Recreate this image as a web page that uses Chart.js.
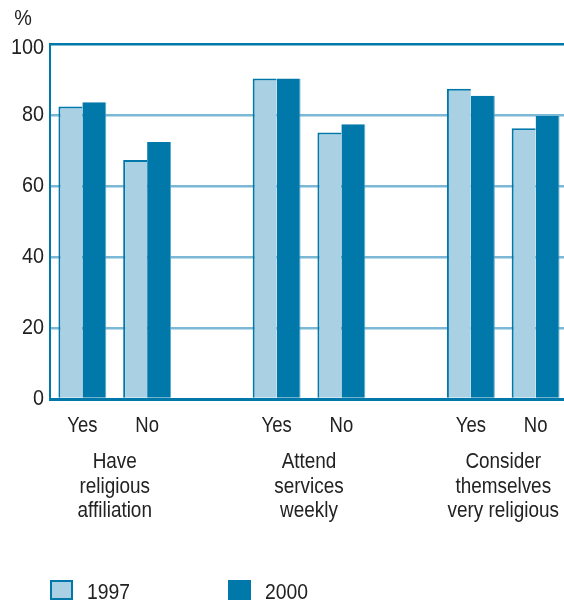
<!DOCTYPE html>
<html>
<head>
    <title>Religion 1997 vs 2000</title>
    <style>
        body {
            margin: 0;
            overflow: hidden;
            background: #fff;
        }

        #wrap {
            width: 568px;
            height: 603px;
        }
    </style>
</head>
<body>
    <div id="wrap">
        <canvas id="chart" width="568" height="603"></canvas>
    </div>
    <script src="https://cdn.jsdelivr.net/npm/chart.js"></script>
    <script>
        // Chart data
        const categories = ['Yes', 'No', '', 'Yes', 'No', '', 'Yes', 'No'];
        const values1997 = [82.4, 67.3, null, 90.3, 75.1, null, 87.4, 76.3];
        const values2000 = [83.6, 72.4, null, 90.3, 77.4, null, 85.4, 79.7];
        const groupStarts = [0, 3, 6];
        const groupLabels = [
            ['Have', 'religious', 'affiliation'],
            ['Attend', 'services', 'weekly'],
            ['Consider', 'themselves', 'very religious']
        ];
        const yTicks = [0, 20, 40, 60, 80, 100];
        const seriesNames = ['1997', '2000'];

        const darkBlue = '#0078a9';
        const lightBlue = '#aad1e3';
        const gridBlue = '#7bb8d5';
        const textColor = '#222222';
        const fontFamily = '"Liberation Sans", Arial, sans-serif';

        // the original uses a condensed face, so squeeze Liberation Sans a bit
        function narrowText(ctx, text, x, y, sx) {
            ctx.save();
            ctx.translate(x, y);
            ctx.scale(sx, 1);
            ctx.fillText(text, 0, 0);
            ctx.restore();
        }

        // Draws tick labels, the % sign, the group captions and the legend
        const extraText = {
            id: 'extraText',
            afterDraw(chart) {
                const ctx = chart.ctx;
                const x = chart.scales.x;
                const y = chart.scales.y;
                ctx.save();
                ctx.fillStyle = textColor;
                ctx.textBaseline = 'middle';

                // y tick labels
                ctx.font = '22px ' + fontFamily;
                ctx.textAlign = 'right';
                yTicks.forEach(v => {
                    const py = y.getPixelForValue(v) + (v === 100 ? 4 : 0);
                    narrowText(ctx, String(v), 44, py, 0.9);
                });
                ctx.textAlign = 'center';
                narrowText(ctx, '%', 23, 19, 0.9);

                // x tick labels
                categories.forEach((c, i) => {
                    if (c) narrowText(ctx, c, x.getPixelForValue(i), 426, 0.84);
                });

                groupStarts.forEach((start, g) => {
                    const cx = (x.getPixelForValue(start) + x.getPixelForValue(start + 1)) / 2;
                    groupLabels[g].forEach((line, i) => {
                        narrowText(ctx, line, cx, 462 + i * 24.5, 0.86);
                    });
                });

                // legend
                const items = [
                    { x: 50, fill: lightBlue, stroke: darkBlue },
                    { x: 228, fill: darkBlue, stroke: darkBlue }
                ];
                ctx.textAlign = 'left';
                items.forEach((item, i) => {
                    ctx.fillStyle = item.fill;
                    ctx.fillRect(item.x, 580, 23, 20);
                    ctx.strokeStyle = item.stroke;
                    ctx.lineWidth = 2;
                    ctx.strokeRect(item.x + 1, 581, 21, 18);
                    ctx.fillStyle = textColor;
                    narrowText(ctx, seriesNames[i], item.x + 37, 593, 0.88);
                });
                ctx.restore();
            }
        };

        const ctx = document.getElementById('chart').getContext('2d');
        new Chart(ctx, {
            type: 'bar',
            data: {
                labels: categories,
                datasets: [{
                    label: seriesNames[0],
                    data: values1997,
                    backgroundColor: lightBlue,
                    borderColor: darkBlue,
                    borderWidth: { left: 2, top: 2, right: 0, bottom: 0 },
                    borderSkipped: false
                }, {
                    label: seriesNames[1],
                    data: values2000,
                    backgroundColor: darkBlue,
                    borderColor: '#5ea8cc',
                    borderWidth: { left: 0, top: 0, right: 1, bottom: 0 },
                    borderSkipped: false
                }]
            },
            options: {
                responsive: false,
                animation: false,
                layout: {
                    padding: { top: 44, left: 0, right: 0, bottom: 0 }
                },
                datasets: {
                    bar: {
                        categoryPercentage: 0.74,
                        barPercentage: 1.0
                    }
                },
                scales: {
                    x: {
                        grid: { display: false, drawTicks: false },
                        border: { display: true, color: darkBlue, width: 3 },
                        ticks: { display: false, autoSkip: false },
                        afterFit(scale) {
                            scale.height = 204;
                        }
                    },
                    y: {
                        min: 0,
                        max: 100,
                        afterBuildTicks(scale) {
                            scale.ticks = yTicks.map(v => ({ value: v }));
                        },
                        grid: {
                            drawTicks: false,
                            color: c => (c.tick.value === 100 ? darkBlue : gridBlue),
                            lineWidth: 2.5
                        },
                        border: { display: true, color: darkBlue, width: 2 },
                        ticks: { display: false },
                        afterFit(scale) {
                            scale.width = 50;
                        }
                    }
                },
                plugins: {
                    legend: { display: false },
                    tooltip: { enabled: false }
                }
            },
            plugins: [extraText]
        });
    </script>
</body>
</html>
